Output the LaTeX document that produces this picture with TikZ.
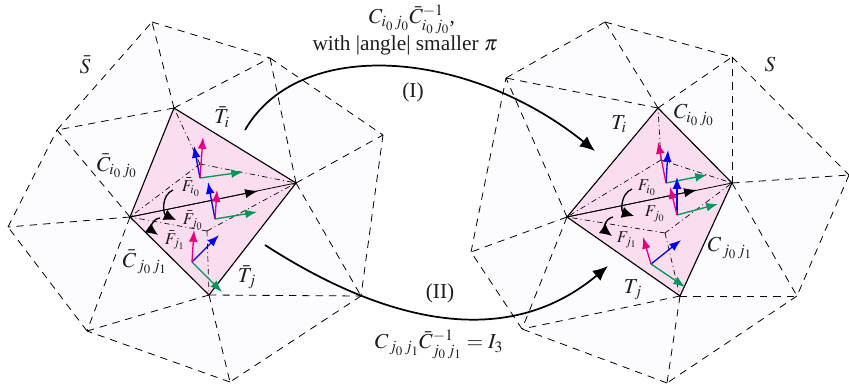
\documentclass[tikz,border=0pt]{standalone}
\usepackage{amsmath,amssymb}
\usepackage{mathptmx}
\usepackage{fontspec}
\setmainfont{Liberation Serif}
\usetikzlibrary{arrows.meta}
\definecolor{meshfill}{RGB}{252,252,255}
\definecolor{quadfill}{RGB}{251,221,240}
\definecolor{axmagenta}{RGB}{230,0,126}
\definecolor{axblue}{RGB}{0,0,255}
\definecolor{axgreen}{RGB}{0,152,90}
\definecolor{ink}{RGB}{30,30,30}

\begin{document}
\begin{tikzpicture}[
  x=.75pt,y=-.75pt,
  mesh/.style={fill=meshfill,draw=none},
  edge/.style={draw=black,line width=.6pt,dash pattern=on 5.5pt off 4.5pt},
  quad/.style={fill=quadfill,draw=black,line width=.85pt,line join=round},
  inner/.style={draw=black,line width=.5pt,dash pattern=on 4pt off 2.4pt on .7pt off 2.4pt},
  flow/.style={-{Latex[length=3.4mm,width=2.4mm]},draw=black,line width=.6pt},
  turn/.style={-{Latex[length=3.2mm,width=3mm]},draw=black,line width=1pt},
  big/.style={-{Latex[length=4mm,width=3.4mm]},draw=black,line width=1.3pt},
  axm/.style={-{Latex[length=3.1mm,width=2.3mm]},draw=axmagenta,line width=1pt},
  axb/.style={-{Latex[length=3.1mm,width=2.3mm]},draw=axblue,line width=1pt},
  axg/.style={-{Latex[length=3.1mm,width=2.3mm]},draw=axgreen,line width=1pt},
  lab/.style={text=ink,inner sep=0pt,font=\fontsize{16}{19}\selectfont},
  small/.style={text=ink,inner sep=0pt,font=\fontsize{12.5}{15}\selectfont}
]
\useasboundingbox (0,0) rectangle (849,389);

% Left mesh.
\coordinate (la) at (152,22);
\coordinate (lb) at (270,58);
\coordinate (lc) at (383,135);
\coordinate (ld) at (361,296);
\coordinate (le) at (230,382);
\coordinate (lf) at (87,331);
\coordinate (lg) at (8,227);
\coordinate (lh) at (57,130);
\coordinate (lt) at (174,108);
\coordinate (lr) at (296,183);
\coordinate (lu) at (209,295);
\coordinate (ll) at (130,217);
\coordinate (lci) at (200,164);
\coordinate (lcj) at (207,231);

% Right mesh.
\coordinate (ra) at (605,22);
\coordinate (rb) at (732,57);
\coordinate (rc) at (849,175);
\coordinate (rd) at (797,296);
\coordinate (re) at (667,383);
\coordinate (rf) at (522,329);
\coordinate (rg) at (471,252);
\coordinate (rh) at (506,78);
\coordinate (rt) at (658,108);
\coordinate (rr) at (732,183);
\coordinate (ru) at (680,296);
\coordinate (rl) at (567,217);
\coordinate (rci) at (661,160);
\coordinate (rcj) at (665,233);

\fill[mesh] (la)--(lb)--(lc)--(ld)--(le)--(lf)--(lg)--(lh)--cycle;
\fill[mesh] (ra)--(rb)--(rc)--(rd)--(re)--(rf)--(rg)--(rh)--cycle;

\foreach \aa/\bb in {la/lb,lb/lc,lc/ld,ld/le,le/lf,lf/lg,lg/lh,lh/la,
  lt/la,lt/lb,lt/lh,lr/lb,lr/lc,lr/ld,lu/ld,lu/le,lu/lf,ll/lh,ll/lg,ll/lf,
  ra/rb,rb/rc,rc/rd,rd/re,re/rf,rf/rg,rg/rh,rh/ra,
  rt/ra,rt/rb,rt/rh,rr/rb,rr/rc,rr/rd,ru/rd,ru/re,ru/rf,rl/rh,rl/rg,rl/rf}{
  \draw[edge] (\aa)--(\bb);
}

% Shaded pairs of triangles.
\draw[quad] (lt)--(lr)--(lu)--(ll)--cycle;
\draw[quad] (rt)--(rr)--(ru)--(rl)--cycle;

\foreach \cc/\aa/\bb/\dd in {lci/lt/lr/ll,lcj/ll/lr/lu,rci/rt/rr/rl,rcj/rl/rr/ru}{
  \draw[inner] (\cc)--(\aa);
  \draw[inner] (\cc)--(\bb);
  \draw[inner] (\cc)--(\dd);
}

% Shared edge.
\draw[draw=black,line width=.6pt] (ll)--(lr);
\draw[draw=black,line width=.6pt] (rl)--(rr);
\coordinate (lmid) at (258,191);
\coordinate (rmid) at (697,190);
\draw[flow] (ll)--(lmid);
\draw[flow] (rl)--(rmid);

% Frames.
\coordinate (fa) at (200,178);
\coordinate (fam) at (203,137);
\coordinate (fab) at (194,146);
\coordinate (fag) at (243,172);
\coordinate (fb) at (215,219);
\coordinate (fbm) at (217,190);
\coordinate (fbb) at (208,182);
\coordinate (fbg) at (257,212);
\coordinate (fc) at (192,262);
\coordinate (fcm) at (194,230);
\coordinate (fcb) at (219,235);
\coordinate (fcg) at (222,292);
\coordinate (fd) at (666,183);
\coordinate (fdm) at (658,142);
\coordinate (fdb) at (668,150);
\coordinate (fdg) at (707,175);
\coordinate (fe) at (677,215);
\coordinate (fem) at (670,187);
\coordinate (feb) at (677,177);
\coordinate (feg) at (718,204);
\coordinate (ff) at (651,264);
\coordinate (ffm) at (643,237);
\coordinate (ffb) at (681,240);
\coordinate (ffg) at (685,287);
\foreach \oo in {fa,fb,fc,fd,fe,ff}{
  \draw[axg] (\oo)--(\oo g);
  \draw[axb] (\oo)--(\oo b);
  \draw[axm] (\oo)--(\oo m);
}

% Rotation hints.
\draw[turn] (173,190) .. controls (161,195) and (163,214) .. (176,220);
\draw[turn] (160,218) .. controls (151,219) and (151,230) .. (158,235);
\draw[turn] (632,189) .. controls (620,194) and (621,212) .. (634,216);
\draw[turn] (613,217) .. controls (604,219) and (604,230) .. (612,236);

% The two maps.
\coordinate (ione) at (245,130);
\coordinate (itwo) at (595,151);
\coordinate (jone) at (265,245);
\coordinate (jtwo) at (608,266);
\draw[big] (ione) .. controls (300,35) and (470,50) .. (itwo);
\draw[big] (jone) .. controls (350,300) and (490,365) .. (jtwo);

% Labels.
\node[lab] (sleft) at (85,65) {$\bar S$};
\node[lab] (sright) at (770,65) {$S$};
\node[lab] (tileft) at (222,117) {$\bar T_i$};
\node[lab] (tjleft) at (247,277) {$\bar T_j$};
\node[lab] (cileft) at (117,166) {$\bar C_{i_0\,j_0}$};
\node[lab] (cjleft) at (145,262) {$\bar C_{\,j_0\,j_1}$};
\node[small] (fileft) at (191,187) {$\bar F_{i_0}$};
\node[small] (fjleft) at (193,220) {$\bar F_{j_0}$};
\node[small] (fkleft) at (175,240) {$\bar F_{j_1}$};
\node[lab] (tiright) at (619,124) {$T_i$};
\node[lab] (tjright) at (633,290) {$T_j$};
\node[lab] (ciright) at (694,115) {$C_{i_0\,j_0}$};
\node[lab] (cjright) at (730,248) {$C_{\,j_0\,j_1}$};
\node[small] (firight) at (647,188) {$F_{i_0}$};
\node[small] (fjright) at (655,214) {$F_{j_0}$};
\node[small] (fkright) at (627,240) {$F_{j_1}$};
\node[lab] (mapi) at (412,19) {$C_{i_0\,j_0}\bar C^{-1}_{i_0\,j_0}$,};
\node[lab] (note) at (405,45) {with |angle| smaller $\pi$};
\node[lab] (numi) at (413,92) {(I)};
\node[lab] (numj) at (440,293) {(II)};
\node[lab] (mapj) at (439,344) {$C_{\,j_0\,j_1}\bar C^{-1}_{j_0\,j_1}=I_3$};

\end{tikzpicture}
\end{document}
